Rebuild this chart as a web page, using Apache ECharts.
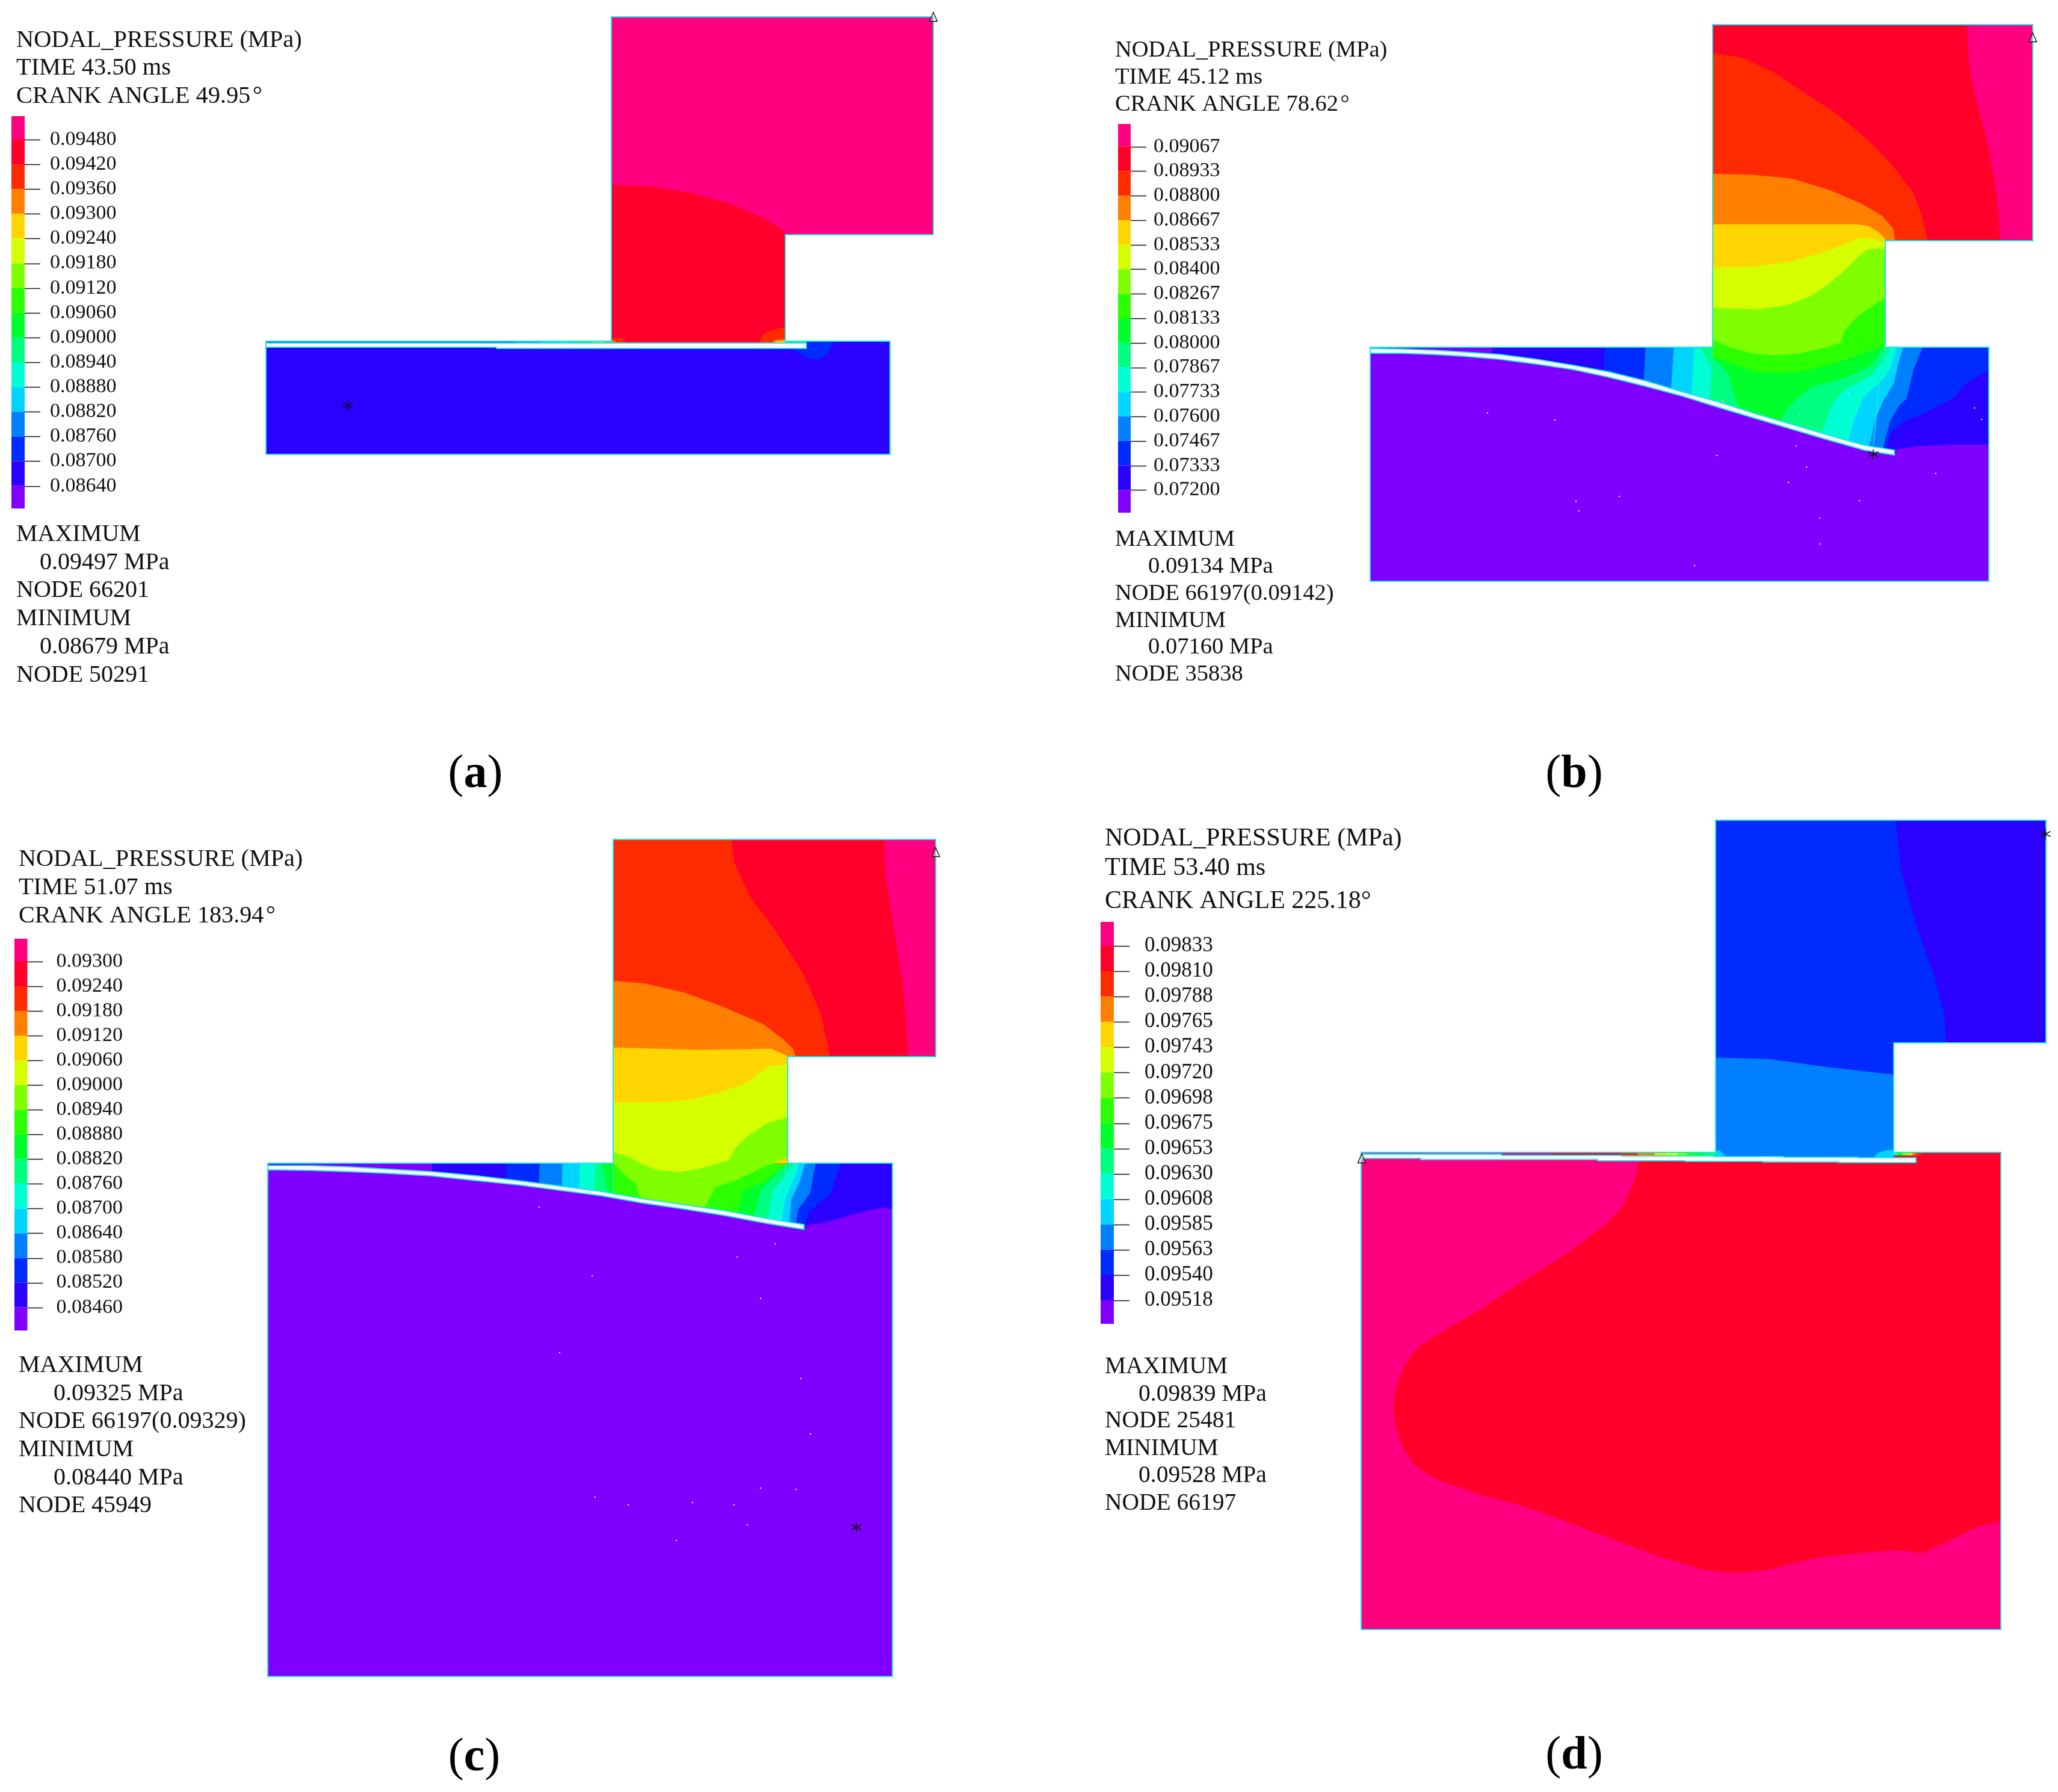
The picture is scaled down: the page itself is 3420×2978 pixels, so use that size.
<!DOCTYPE html>
<html>
<head>
<meta charset="utf-8">
<title>Nodal pressure contours</title>
<script src="https://cdn.jsdelivr.net/npm/echarts@6/dist/echarts.min.js"></script>
<style>
    html, body { margin: 0; padding: 0; background: #fff; }
    #main { width: 3420px; height: 2978px; }
</style>
</head>
<body>
<div id="main"></div>
<script>
// contour band colours, top of the colour bar first
var bandColors = ['#ff0080', '#ff002b', '#ff2b00', '#ff8000', '#ffd500', '#d5ff00', '#80ff00', '#2bff00',
    '#00ff2b', '#00ff80', '#00ffd5', '#00d5ff', '#0080ff', '#002bff', '#2b00ff', '#8000ff'];

var ticksA = ['0.09480', '0.09420', '0.09360', '0.09300', '0.09240', '0.09180', '0.09120', '0.09060', '0.09000', '0.08940', '0.08880', '0.08820', '0.08760', '0.08700', '0.08640'];
var ticksB = ['0.09067', '0.08933', '0.08800', '0.08667', '0.08533', '0.08400', '0.08267', '0.08133', '0.08000', '0.07867', '0.07733', '0.07600', '0.07467', '0.07333', '0.07200'];
var ticksC = ['0.09300', '0.09240', '0.09180', '0.09120', '0.09060', '0.09000', '0.08940', '0.08880', '0.08820', '0.08760', '0.08700', '0.08640', '0.08580', '0.08520', '0.08460'];
var ticksD = ['0.09833', '0.09810', '0.09788', '0.09765', '0.09743', '0.09720', '0.09698', '0.09675', '0.09653', '0.09630', '0.09608', '0.09585', '0.09563', '0.09540', '0.09518'];

var headA = ['NODAL_PRESSURE (MPa)', 'TIME 43.50 ms', 'CRANK ANGLE 49.95\u200a°'];
var headB = ['NODAL_PRESSURE (MPa)', 'TIME 45.12 ms', 'CRANK ANGLE 78.62\u200a°'];
var headC = ['NODAL_PRESSURE (MPa)', 'TIME 51.07 ms', 'CRANK ANGLE 183.94\u200a°'];
var headD = ['NODAL_PRESSURE (MPa)', 'TIME 53.40 ms', 'CRANK ANGLE 225.18°'];

var footA = ['MAXIMUM', '0.09497 MPa', 'NODE 66201', 'MINIMUM', '0.08679 MPa', 'NODE 50291'];
var footB = ['MAXIMUM', '0.09134 MPa', 'NODE 66197(0.09142)', 'MINIMUM', '0.07160 MPa', 'NODE 35838'];
var footC = ['MAXIMUM', '0.09325 MPa', 'NODE 66197(0.09329)', 'MINIMUM', '0.08440 MPa', 'NODE 45949'];
var footD = ['MAXIMUM', '0.09839 MPa', 'NODE 25481', 'MINIMUM', '0.09528 MPa', 'NODE 66197'];

// contour regions: [band index, [x, y, x, y, ...]], painted in order
var regionsA = [
    [14, [442, 567, 1479, 567, 1479, 755, 442, 755]],
    [13, [1320, 578, 1329, 588, 1346, 597, 1360, 597, 1374, 590, 1385, 569, 1320, 569]],
    [0, [1016, 28, 1551, 28, 1551, 390, 1305, 390, 1305, 569, 1016, 569]],
    [1, [1016, 307, 1084, 310, 1149, 321, 1214, 339, 1268, 362, 1305, 386, 1305, 569, 1016, 569]],
    [2, [1262, 569, 1267, 558, 1276, 551, 1290, 547, 1302, 544, 1305, 544, 1305, 569]],
    [3, [1284, 569, 1288, 565, 1305, 564, 1305, 569]],
    [4, [1288, 569, 1291, 567, 1305, 566, 1305, 569]],
    [2, [1016, 562, 1034, 562, 1040, 569, 1016, 569]],
    [3, [1016, 566, 1022, 566, 1022, 569, 1016, 569]]
];
var regionsB = [
    [15, [2277, 577, 3305, 577, 3305, 966, 2277, 966]],
    [14, [2480, 577, 3305, 577, 3305, 800, 2480, 800]],
    [13, [2667, 577, 3305, 577, 3305, 615, 3267, 637, 3246, 662, 3195, 688, 3164, 701, 3143, 718, 3128, 770, 2662, 650]],
    [12, [2735, 577, 3195, 577, 3180, 613, 3168, 663, 3156, 673, 3141, 700, 3122, 770, 2729, 680]],
    [11, [2782, 577, 3162, 577, 3153, 610, 3147, 637, 3129, 667, 3116, 697, 3101, 765, 2774, 690]],
    [10, [2816, 577, 3151, 577, 3141, 613, 3129, 630, 3104, 652, 3095, 663, 3080, 700, 3065, 755, 2809, 700]],
    [9, [2827, 577, 3141, 577, 3132, 597, 3110, 623, 3062, 650, 3044, 673, 3019, 745, 2840, 700, 2844, 613]],
    [1, [2846, 41, 3378, 41, 3378, 400, 3133, 400, 3133, 577, 2846, 577]],
    [0, [3269, 41, 3272, 103, 3283, 162, 3298, 214, 3314, 291, 3322, 359, 3324, 400, 3378, 400, 3378, 41]],
    [2, [2846, 88, 2895, 96, 2947, 120, 2998, 154, 3050, 188, 3102, 231, 3143, 273, 3179, 320, 3195, 363, 3203, 400, 3133, 400, 3133, 577, 2846, 577]],
    [3, [2846, 289, 2916, 291, 2978, 297, 3040, 316, 3092, 338, 3128, 359, 3146, 380, 3149, 400, 3133, 400, 3133, 577, 2846, 577]],
    [4, [2846, 373, 3086, 373, 3105, 376, 3122, 386, 3133, 398, 3133, 577, 2846, 577]],
    [5, [2846, 445, 2916, 443, 2977, 435, 3038, 417, 3086, 397, 3104, 395, 3133, 403, 3133, 577, 2846, 577]],
    [6, [2846, 512, 2886, 513, 2923, 514, 2971, 507, 3007, 493, 3038, 473, 3068, 447, 3092, 423, 3104, 415, 3133, 413, 3133, 577, 3038, 600, 2874, 600, 2846, 577]],
    [7, [2846, 565, 2874, 577, 2910, 587, 2947, 591, 2989, 588, 3038, 577, 3059, 570, 3065, 550, 3086, 527, 3110, 510, 3133, 495, 3133, 573, 3110, 583, 3062, 600, 3007, 615, 2959, 621, 2916, 618, 2874, 603, 2846, 593]],
    [8, [2846, 593, 2874, 603, 2916, 618, 2959, 621, 3007, 615, 3062, 600, 3110, 583, 3133, 573, 3110, 607, 3068, 627, 3010, 643, 2992, 657, 2971, 677, 2947, 720, 2889, 700, 2889, 675, 2880, 650, 2873, 623]],
    [15, [2277, 587, 2329, 587, 2383, 589, 2432, 592, 2492, 597, 2553, 605, 2614, 614, 2674, 627, 2735, 642, 2795, 658, 2856, 677, 2916, 695, 2977, 713, 3038, 731, 3098, 748, 3148, 756, 3148, 748, 3185, 742, 3246, 739, 3305, 739, 3305, 966, 2277, 966]]
];
var regionsC = [
    [15, [445, 1933, 1483, 1933, 1483, 2786, 445, 2786]],
    [14, [718, 1933, 1483, 1933, 1483, 2100, 718, 2100]],
    [13, [842, 1933, 1397, 1933, 1381, 1983, 1343, 2015, 1333, 2060, 840, 2000]],
    [12, [897, 1933, 1355, 1933, 1346, 1983, 1326, 2010, 1319, 2060, 895, 2000]],
    [11, [935, 1933, 1338, 1933, 1329, 1963, 1315, 1993, 1309, 2060, 933, 2010]],
    [10, [964, 1933, 1329, 1933, 1315, 1967, 1304, 1993, 1295, 2055, 962, 2015]],
    [9, [990, 1933, 1319, 1933, 1305, 1953, 1284, 1980, 1272, 2050, 986, 2015]],
    [8, [1001, 1933, 1309, 1933, 1288, 1953, 1264, 1977, 1247, 2045, 1016, 2015]],
    [7, [1019, 1932, 1309, 1933, 1271, 1963, 1236, 1977, 1216, 2045, 1065, 2025, 1019, 1985]],
    [1, [1019, 1395, 1555, 1395, 1555, 1756, 1309, 1756, 1309, 1933, 1019, 1933]],
    [0, [1470, 1395, 1472, 1455, 1485, 1538, 1502, 1643, 1510, 1756, 1555, 1756, 1555, 1395]],
    [2, [1215, 1395, 1220, 1434, 1247, 1491, 1290, 1549, 1334, 1617, 1364, 1685, 1379, 1756, 1309, 1756, 1309, 1933, 1019, 1933, 1019, 1395]],
    [3, [1019, 1630, 1073, 1635, 1138, 1650, 1203, 1674, 1268, 1702, 1301, 1727, 1317, 1742, 1322, 1756, 1309, 1756, 1309, 1933, 1019, 1933]],
    [4, [1019, 1741, 1088, 1743, 1164, 1745, 1233, 1744, 1281, 1743, 1309, 1755, 1309, 1933, 1019, 1933]],
    [5, [1019, 1833, 1102, 1832, 1150, 1827, 1198, 1815, 1240, 1800, 1260, 1785, 1278, 1772, 1309, 1769, 1309, 1900, 1212, 1945, 1129, 1955, 1067, 1945, 1019, 1920]],
    [6, [1019, 1915, 1043, 1922, 1067, 1935, 1095, 1945, 1129, 1948, 1164, 1942, 1212, 1928, 1222, 1908, 1240, 1890, 1274, 1867, 1309, 1857, 1309, 1923, 1267, 1940, 1226, 1960, 1188, 1973, 1178, 1993, 1158, 2030, 1072, 2020, 1065, 1993, 1057, 1967, 1043, 1957, 1019, 1932]],
    [15, [445, 1944, 516, 1945, 578, 1947, 647, 1950, 716, 1954, 792, 1962, 861, 1969, 930, 1978, 999, 1987, 1067, 1999, 1136, 2009, 1205, 2020, 1274, 2033, 1336, 2043, 1336, 2037, 1371, 2032, 1412, 2020, 1453, 2010, 1470, 2007, 1483, 2010, 1483, 2786, 445, 2786]]
];
var regionsD = [
    [0, [2262, 1915, 3325, 1915, 3325, 2708, 2262, 2708]],
    [1, [2725, 1928, 2714, 1967, 2694, 2009, 2668, 2035, 2606, 2082, 2523, 2134, 2461, 2176, 2399, 2212, 2358, 2238, 2342, 2257, 2329, 2280, 2320, 2306, 2315, 2338, 2319, 2369, 2329, 2400, 2348, 2432, 2368, 2447, 2394, 2461, 2461, 2484, 2523, 2500, 2596, 2526, 2678, 2557, 2761, 2588, 2833, 2609, 2885, 2614, 2937, 2609, 3019, 2588, 3092, 2581, 3148, 2576, 3195, 2581, 3246, 2557, 3288, 2536, 3325, 2528, 3325, 1915, 2725, 1915]],
    [13, [2851, 1363, 3400, 1363, 3400, 1733, 3147, 1733, 3147, 1925, 2851, 1925]],
    [14, [3151, 1363, 3159, 1445, 3185, 1538, 3215, 1622, 3231, 1685, 3234, 1733, 3400, 1733, 3400, 1363]],
    [12, [2851, 1758, 2937, 1760, 3040, 1774, 3147, 1786, 3147, 1925, 2851, 1925]],
    [11, [2851, 1912, 2858, 1912, 2867, 1922, 2851, 1922]],
    [11, [3114, 1924, 3120, 1917, 3133, 1912, 3147, 1911, 3147, 1924]]
];

// colour runs along the thin strip above the valve: [x start, x end, band index]
var stripA = [[442, 858, 13], [858, 897, 12], [897, 925, 11], [925, 953, 10], [953, 981, 8], [981, 994, 6], [994, 1006, 4], [1006, 1016, 3],
    [1305, 1325, 8], [1325, 1339, 10], [1339, 1385, 13]];
var stripD = [[2581, 2695, 1], [2695, 2722, 2], [2722, 2750, 3], [2750, 2769, 4], [2769, 2788, 5], [2788, 2804, 6], [2804, 2817, 7], [2817, 2833, 8], [2833, 2851, 9],
    [3147, 3152, 10], [3152, 3162, 8], [3162, 3171, 6], [3171, 3178, 4], [3178, 3184, 3], [3184, 3193, 2]];

// white gap with its cyan edge
var gapA = [442, 570, 1340, 570, 1340, 579, 825, 579, 825, 577, 442, 577];
var gapB = [2277, 579, 2329, 580, 2383, 582, 2432, 585, 2492, 589, 2553, 597, 2614, 607, 2674, 618, 2735, 633, 2795, 651, 2856, 668, 2916, 687, 2977, 705, 3038, 723, 3098, 740, 3148, 748,
    3148, 756, 3098, 748, 3038, 731, 2977, 713, 2916, 695, 2856, 677, 2795, 658, 2735, 642, 2674, 627, 2614, 614, 2553, 605, 2492, 597, 2432, 592, 2383, 589, 2329, 587, 2277, 587];
var gapC = [445, 1937, 516, 1937, 578, 1939, 647, 1943, 716, 1947, 792, 1954, 861, 1962, 930, 1971, 999, 1980, 1067, 1992, 1136, 2002, 1205, 2012, 1274, 2025, 1336, 2035,
    1336, 2043, 1274, 2033, 1205, 2020, 1136, 2009, 1067, 1999, 999, 1987, 930, 1978, 861, 1969, 792, 1962, 716, 1954, 647, 1950, 578, 1947, 516, 1945, 445, 1944];
var gapD = [2262, 1918, 2495, 1918, 2495, 1920, 2695, 1920, 2695, 1921, 2849, 1921, 2849, 1922, 2964, 1922, 2964, 1923, 3088, 1923, 3088, 1924, 3184, 1924,
    3184, 1932, 3056, 1932, 3056, 1931, 2929, 1931, 2929, 1930, 2800, 1930, 2800, 1929, 2655, 1929, 2655, 1927, 2361, 1927, 2361, 1925, 2262, 1925];

// mesh outlines, left open where the neck joins the block
var outlines = [
    [1016, 569, 1016, 28, 1551, 28, 1551, 390, 1305, 390, 1305, 569],
    [1016, 567, 442, 567, 442, 755, 1479, 755, 1479, 567, 1305, 567],
    [2846, 577, 2846, 41, 3378, 41, 3378, 400, 3133, 400, 3133, 577],
    [2846, 577, 2277, 577, 2277, 966, 3305, 966, 3305, 577, 3133, 577],
    [1019, 1933, 1019, 1395, 1555, 1395, 1555, 1756, 1309, 1756, 1309, 1933],
    [1019, 1933, 445, 1933, 445, 2786, 1483, 2786, 1483, 1933, 1309, 1933],
    [2851, 1915, 2851, 1363, 3400, 1363, 3400, 1733, 3147, 1733, 3147, 1915],
    [2851, 1915, 2262, 1915, 2262, 2708, 3325, 2708, 3325, 1915, 3147, 1915]
];
var innerLines = [
    [2845, 577, 2844, 613, 2841, 662],
    [3132, 577, 3129, 607, 3122, 643, 3116, 713, 3113, 738],
    [1018, 1934, 1018, 1985],
    [1307, 1934, 1293, 2030]
];

var triangleNodes = [[1551, 28], [3378, 62], [1555, 1416], [2263, 1925]];
var starNodes = [[578, 674], [3113, 755], [1423, 2538], [3399, 1386]];
var specks = [[2472, 686], [2584, 698], [2619, 833], [2624, 849], [2691, 825], [2816, 940], [2853, 757], [2972, 802], [2985, 741], [3002, 776], [3024, 861], [3024, 904], [3090, 832], [3217, 787], [3281, 678], [3293, 697], [3072, 654], [2990, 689], [2863, 667],
    [896, 2006], [984, 2120], [930, 2248], [1225, 2089], [1288, 2067], [1264, 2158], [1331, 2291], [1347, 2383], [1264, 2473], [1323, 2475], [989, 2488], [1044, 2501], [1151, 2497], [1220, 2501], [1242, 2534], [1124, 2560]];

var serif = '"Liberation Serif", serif';
var edgeColor = '#1fe6e6';

function strip(runs, y0, y1) {
    return runs.map(function (r) {
        return [r[2], [r[0], y0, r[1], y0, r[1], y1, r[0], y1]];
    });
}

var fills = [].concat(regionsA, strip(stripA, 567, 570), regionsB, regionsC, regionsD, strip(stripD, 1915, 1920));
var gaps = [gapA, gapB, gapC, gapD];

function toPoints(api, flat) {
    var pts = [];
    for (var i = 0; i < flat.length; i += 2) {
        pts.push(api.coord([flat[i], flat[i + 1]]));
    }
    return pts;
}

function indexData(list) {
    return list.map(function (d, i) { return [i]; });
}

// colour bars
var barLayout = [
    {left: 19, right: 41, top: 193, bottom: 845, first: 232, last: 807.6, labels: ticksA, size: 34, margin: 42, lift: 14},
    {left: 1858, right: 1879, top: 206, bottom: 852, first: 243.6, last: 814.4, labels: ticksB, size: 34, margin: 38, lift: 8},
    {left: 24, right: 45.5, top: 1560, bottom: 2211, first: 1598, last: 2172.6, labels: ticksC, size: 34, margin: 48, lift: 8},
    {left: 1829, right: 1851, top: 1532, bottom: 2200, first: 1572, last: 2161, labels: ticksD, size: 35, margin: 51, lift: 8}
];
var tickValues = [1, 2, 3, 4, 5, 6, 7, 8, 9, 10, 11, 12, 13, 14, 15];
var tickLength = 26;

var grids = [{left: 0, top: 0, width: 3420, height: 2978}];
var xAxes = [{type: 'value', min: 0, max: 3420, show: false}];
var yAxes = [{type: 'value', min: 0, max: 2978, inverse: true, show: false}];
var series = [];

// contour fills
series.push({
    type: 'custom', silent: true, animation: false, clip: false,
    data: indexData(fills),
    renderItem: function (params, api) {
        var f = fills[api.value(0)];
        return {type: 'polygon', shape: {points: toPoints(api, f[1])}, style: {fill: bandColors[f[0]], stroke: bandColors[f[0]], lineWidth: 0.5}};
    }
});
// gaps over the fills
series.push({
    type: 'custom', silent: true, animation: false, clip: false,
    data: indexData(gaps),
    renderItem: function (params, api) {
        return {type: 'polygon', shape: {points: toPoints(api, gaps[api.value(0)])}, style: {fill: '#fff', stroke: edgeColor, lineWidth: 2}};
    }
});
// outlines
series.push({
    type: 'custom', silent: true, animation: false, clip: false,
    data: indexData(outlines),
    renderItem: function (params, api) {
        return {type: 'polyline', shape: {points: toPoints(api, outlines[api.value(0)])}, style: {fill: 'none', stroke: edgeColor, lineWidth: 2}};
    }
});
series.push({
    type: 'custom', silent: true, animation: false, clip: false,
    data: indexData(innerLines),
    renderItem: function (params, api) {
        return {type: 'polyline', shape: {points: toPoints(api, innerLines[api.value(0)])}, style: {fill: 'none', stroke: edgeColor, lineWidth: 1.5}};
    }
});
series.push({
    type: 'scatter', silent: true, animation: false, symbol: 'rect', symbolSize: 2,
    itemStyle: {color: '#fff', opacity: 1}, data: specks
});
series.push({
    type: 'scatter', silent: true, animation: false, symbol: 'triangle', symbolSize: [13, 15],
    itemStyle: {color: 'rgba(255,255,255,0.4)', borderColor: '#111', borderWidth: 1.5, opacity: 1}, data: triangleNodes
});
series.push({
    type: 'scatter', silent: true, animation: false, symbol: 'path://M10 0L10 20M1 5L19 15M1 15L19 5', symbolSize: 17,
    itemStyle: {color: 'none', borderColor: '#111', borderWidth: 1.5, opacity: 1}, data: starNodes
});

barLayout.forEach(function (b, i) {
    var step = (b.last - b.first) / 14;
    var minV = 1 - (b.first - b.top) / step;
    var maxV = 15 + (b.bottom - b.last) / step;
    grids.push({left: b.left, top: b.top, width: b.right - b.left, height: b.bottom - b.top});
    xAxes.push({type: 'value', gridIndex: i + 1, min: 0, max: 1, show: false});
    yAxes.push({
        type: 'value', gridIndex: i + 1, min: minV, max: maxV, inverse: true, position: 'right',
        axisLine: {show: false}, splitLine: {show: false}, axisTick: {show: false},
        axisLabel: {
            show: true, customValues: tickValues, margin: b.margin, color: '#111',
            fontFamily: serif, fontSize: b.size, padding: [0, 0, b.lift, 0],
            formatter: function (v) { return b.labels[Math.round(v) - 1]; }
        }
    });
    series.push({
        type: 'custom', silent: true, animation: false, xAxisIndex: i + 1, yAxisIndex: i + 1, clip: true,
        data: indexData(bandColors),
        renderItem: function (params, api) {
            var k = api.value(0);
            var p0 = api.coord([0, Math.max(k, minV)]);
            var p1 = api.coord([1, Math.min(k + 1, maxV)]);
            return {type: 'rect', shape: {x: p0[0], y: p0[1], width: p1[0] - p0[0], height: p1[1] - p0[1]}, style: {fill: bandColors[k]}};
        }
    });
    // tick marks from the bar to its labels
    series.push({
        type: 'custom', silent: true, animation: false, xAxisIndex: i + 1, yAxisIndex: i + 1, clip: false,
        data: tickValues.map(function (v) { return [v]; }),
        renderItem: function (params, api) {
            var p = api.coord([1, api.value(0)]);
            var y = Math.round(p[1]) + 0.5;
            return {type: 'line', shape: {x1: p[0], y1: y, x2: p[0] + tickLength, y2: y}, style: {stroke: '#222', lineWidth: 1.6}};
        }
    });
});

// text blocks
var textLayout = [
    {head: headA, foot: footA, size: 40.4, footSize: 40, x: 27, valueX: 66, headY: [67, 113, 160], footY: [888, 935, 981, 1028, 1075, 1122], cap: 'a', capX: 790, capY: 1288},
    {head: headB, foot: footB, size: 38.5, footSize: 38.5, x: 1853, valueX: 1908, headY: [84, 129, 174], footY: [897, 942, 987, 1032, 1076, 1121], cap: 'b', capX: 2616, capY: 1288},
    {head: headC, foot: footC, size: 40.2, footSize: 40, x: 31, valueX: 89, headY: [1428, 1475, 1522], footY: [2269, 2316, 2362, 2409, 2456, 2502], cap: 'c', capX: 788, capY: 2922},
    {head: headD, foot: footD, size: 42, footSize: 39.5, x: 1836, valueX: 1892, headY: [1394, 1443, 1498], footY: [2272, 2318, 2362, 2408, 2453, 2499], cap: 'd', capX: 2616, capY: 2919}
];

var graphics = [];
function addText(str, x, y, size) {
    graphics.push({
        type: 'text', x: x, y: y, silent: true,
        style: {text: str, fill: '#111', font: size + 'px ' + serif, verticalAlign: 'middle'}
    });
}
textLayout.forEach(function (t) {
    t.head.forEach(function (s, i) { addText(s, t.x, t.headY[i], t.size); });
    t.foot.forEach(function (s, i) { addText(s, (i === 1 || i === 4) ? t.valueX : t.x, t.footY[i], t.footSize); });
    graphics.push({
        type: 'text', x: t.capX, y: t.capY, silent: true,
        style: {
            text: '({b|' + t.cap + '})', fill: '#000', align: 'center', verticalAlign: 'middle',
            font: '78px ' + serif,
            rich: {b: {font: 'bold 78px ' + serif, fill: '#000'}}
        }
    });
});

var myChart = echarts.init(document.getElementById('main'));
myChart.setOption({
    animation: false,
    backgroundColor: '#fff',
    grid: grids,
    xAxis: xAxes,
    yAxis: yAxes,
    series: series,
    graphic: graphics
});
</script>
</body>
</html>
